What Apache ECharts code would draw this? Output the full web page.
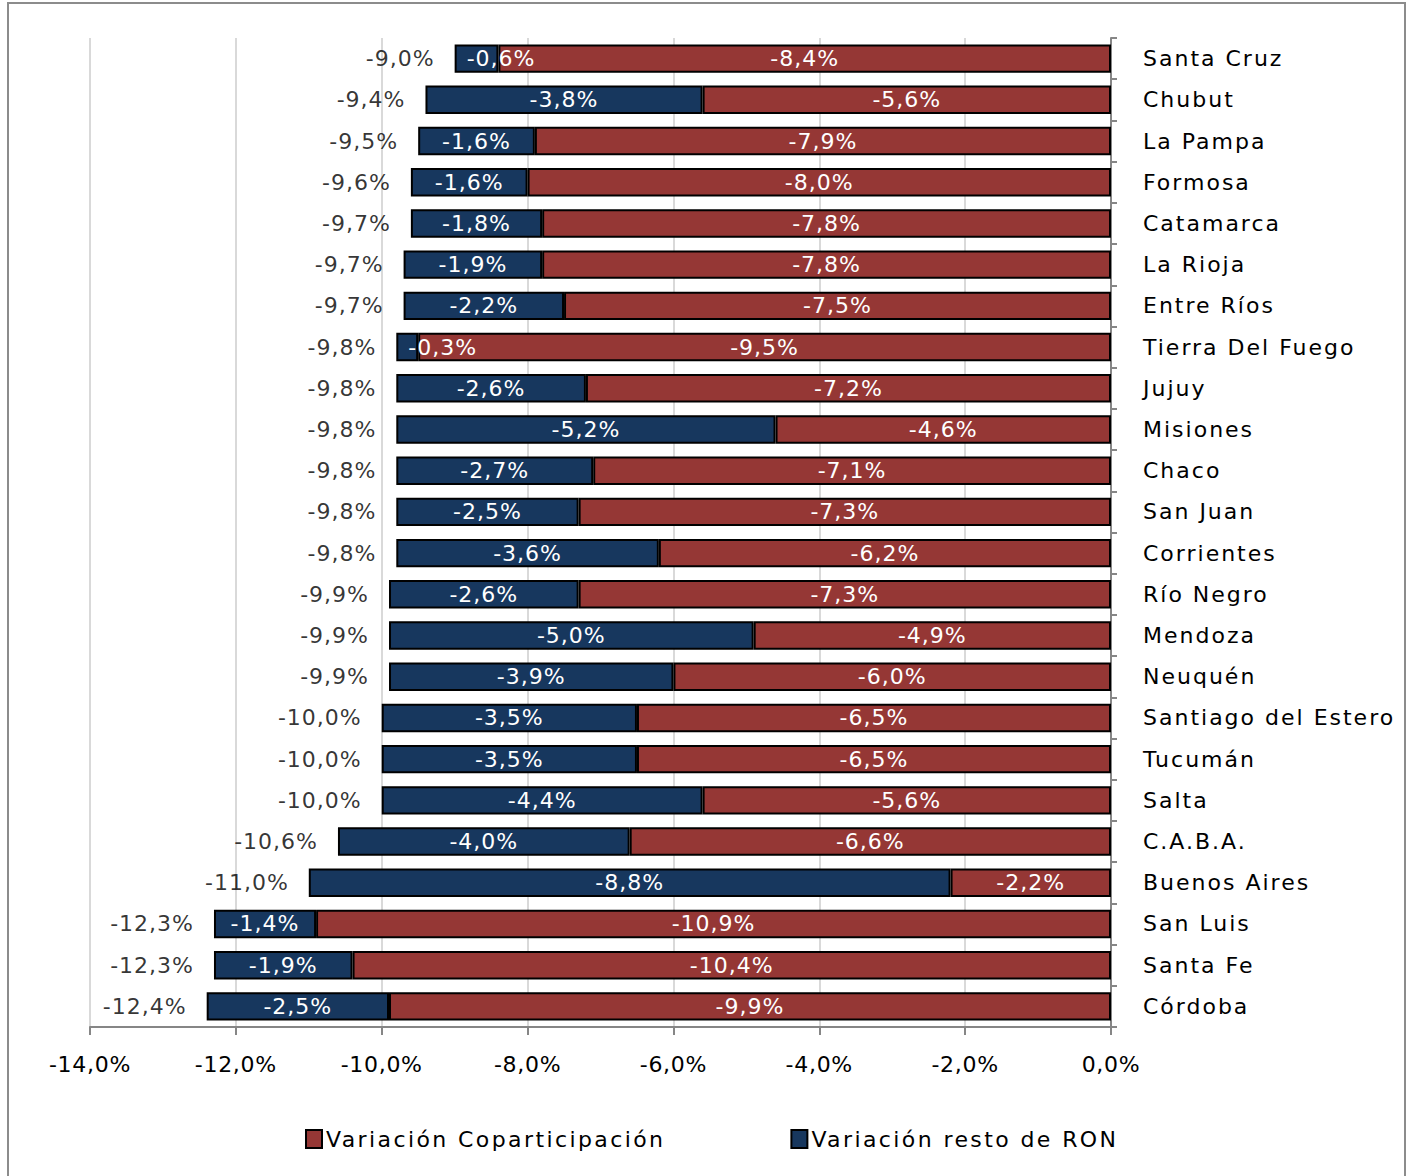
<!DOCTYPE html>
<html>
<head>
<meta charset="utf-8">
<script src="https://cdn.jsdelivr.net/npm/echarts@6/dist/echarts.min.js"></script>
<style>
html,body{margin:0;padding:0;background:#fff}
#c{width:1411px;height:1176px}
text[style*="lblcat"]{letter-spacing:2px}
text[style*="lblleg"]{letter-spacing:2.4px}
text[style*="lblnum"]{letter-spacing:1px}
text[style*="lbltick"]{letter-spacing:0.7px}
</style>
</head>
<body>
<div id="c"></div>
<script>
const provinces = ["Santa Cruz","Chubut","La Pampa","Formosa","Catamarca","La Rioja","Entre Ríos","Tierra Del Fuego","Jujuy","Misiones","Chaco","San Juan","Corrientes","Río Negro","Mendoza","Neuquén","Santiago del Estero","Tucumán","Salta","C.A.B.A.","Buenos Aires","San Luis","Santa Fe","Córdoba"];
const totals = [-9.0,-9.4,-9.5,-9.6,-9.7,-9.7,-9.7,-9.8,-9.8,-9.8,-9.8,-9.8,-9.8,-9.9,-9.9,-9.9,-10.0,-10.0,-10.0,-10.6,-11.0,-12.3,-12.3,-12.4];
const restoRON = [-0.6,-3.8,-1.6,-1.6,-1.8,-1.9,-2.2,-0.3,-2.6,-5.2,-2.7,-2.5,-3.6,-2.6,-5.0,-3.9,-3.5,-3.5,-4.4,-4.0,-8.8,-1.4,-1.9,-2.5];
const coparticipacion = [-8.4,-5.6,-7.9,-8.0,-7.8,-7.8,-7.5,-9.5,-7.2,-4.6,-7.1,-7.3,-6.2,-7.3,-4.9,-6.0,-6.5,-6.5,-5.6,-6.6,-2.2,-10.9,-10.4,-9.9];
const xTicks = {min:-14, max:0, interval:2};

const fmt = v => (Number(v).toFixed(1)).replace('.', ',') + '%';
const F_CAT = "'DejaVu Sans', lblcat";
const F_LEG = "'DejaVu Sans', lblleg";
const F_NUM = "'DejaVu Sans', lblnum";
const F_TICK = "'DejaVu Sans', lbltick";

const chart = echarts.init(document.getElementById('c'), null, {renderer: 'svg'});
chart.setOption({
  backgroundColor: '#fff',
  animation: false,
  textStyle: {fontFamily: 'DejaVu Sans'},
  graphic: [{
    type: 'rect', shape: {x: 8, y: 3, width: 1397, height: 1200},
    style: {fill: 'none', stroke: '#8c8c8c', lineWidth: 2}, silent: true
  }],
  grid: {left: 90, right: 300, top: 38, bottom: 149},
  legend: {
    data: ['Variación Coparticipación', 'Variación resto de RON'],
    left: 300, top: 1123, itemWidth: 16, itemHeight: 18, itemGap: 185,
    icon: 'rect',
    textStyle: {fontFamily: F_LEG, fontSize: 22, color: '#000', padding: [0,0,0,-1]}
  },
  xAxis: {
    type: 'value', min: xTicks.min, max: xTicks.max, interval: xTicks.interval,
    axisLine: {show: true, lineStyle: {color: '#868686', width: 2}},
    axisTick: {show: true, length: 8, lineStyle: {color: '#868686', width: 2}},
    splitLine: {show: true, lineStyle: {color: '#d9d9d9', width: 2}},
    axisLabel: {formatter: fmt, fontFamily: F_TICK, fontSize: 22, color: '#000', margin: 26}
  },
  yAxis: {
    type: 'category', data: provinces, inverse: true, position: 'right',
    axisLine: {show: true, onZero: false, lineStyle: {color: '#868686', width: 2}},
    axisTick: {show: true, length: 6, lineStyle: {color: '#868686', width: 2}},
    axisLabel: {fontFamily: F_CAT, fontSize: 22, color: '#000', margin: 32}
  },
  series: [
    {
      name: 'Variación Coparticipación', type: 'bar', stack: 't',
      data: coparticipacion.map(v => Math.abs(v) < 1 ? {value: v, label: {position: 'insideLeft', distance: 10}} : v),
      barWidth: '69%',
      itemStyle: {color: '#953735', borderColor: '#000', borderWidth: 2},
      label: {show: true, position: 'inside', color: '#fff', fontFamily: F_NUM, fontSize: 22, formatter: p => fmt(p.value)}
    },
    {
      name: 'Variación resto de RON', type: 'bar', stack: 't',
      data: restoRON.map(v => Math.abs(v) < 1 ? {value: v, label: {position: 'insideLeft', distance: 12}} : v),
      barWidth: '69%',
      itemStyle: {color: '#17375E', borderColor: '#000', borderWidth: 2},
      label: {show: true, position: 'inside', color: '#fff', fontFamily: F_NUM, fontSize: 22, formatter: p => fmt(p.value)}
    },
    {
      name: 'total', type: 'scatter', symbolSize: 0, z: 5,
      data: totals.map((t, i) => [restoRON[i] + coparticipacion[i], provinces[i], t]),
      label: {show: true, position: 'left', distance: 20, color: '#000', fontFamily: F_NUM, fontSize: 22, formatter: p => fmt(p.value[2])}
    }
  ]
});
</script>
</body>
</html>
